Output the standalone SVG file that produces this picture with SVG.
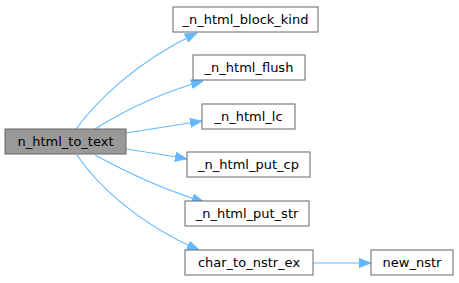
<svg xmlns="http://www.w3.org/2000/svg" width="459" height="283" viewBox="0 0 459 283">
<style>
.n rect{fill:#fff;stroke:#666;stroke-width:1}
.m rect{fill:#999;stroke:#666;stroke-width:1}
text{font-family:"DejaVu Sans",sans-serif;font-size:13px;text-anchor:middle;fill:#000}
.e path{fill:none;stroke:#63b8ff;stroke-width:1.1}
</style>
<defs>
<marker id="a" markerWidth="12" markerHeight="10" refX="12" refY="5" orient="auto" markerUnits="userSpaceOnUse"><path d="M0,0.5L12,5L0,9.5Z" fill="#63b8ff" stroke="#63b8ff" stroke-width="1"/></marker>
</defs>
<rect width="459" height="283" fill="#fff"/>
<g class="e">
<path d="M76,129C95,103 135,62 197,33" marker-end="url(#a)"/>
<path d="M95,129C122,112 160,93 203,81" marker-end="url(#a)"/>
<path d="M126,133C150,129 176,125 202,121" marker-end="url(#a)"/>
<path d="M126,149C146,152 166,155 187,159" marker-end="url(#a)"/>
<path d="M95,155C126,172 165,190 204,202" marker-end="url(#a)"/>
<path d="M77,155C97,185 140,225 199,250" marker-end="url(#a)"/>
<path d="M313,263L371,263" marker-end="url(#a)"/>
</g>
<g id="n_html_to_text" class="m"><rect x="5" y="129" width="121" height="25"/><text x="65.5" y="146">n_html_to_text</text></g>
<g id="_n_html_block_kind" class="n"><rect x="173" y="7" width="145" height="25"/><text x="245.5" y="24">_n_html_block_kind</text></g>
<g id="_n_html_flush" class="n"><rect x="193" y="55" width="112" height="25"/><text x="249" y="72">_n_html_flush</text></g>
<g id="_n_html_lc" class="n"><rect x="202" y="104" width="93" height="25"/><text x="248.5" y="121">_n_html_lc</text></g>
<g id="_n_html_put_cp" class="n"><rect x="187" y="152" width="123" height="25"/><text x="248.5" y="169">_n_html_put_cp</text></g>
<g id="_n_html_put_str" class="n"><rect x="185" y="201" width="124" height="25"/><text x="247" y="218">_n_html_put_str</text></g>
<g id="char_to_nstr_ex" class="n"><rect x="185" y="250" width="128" height="25"/><text x="249" y="267">char_to_nstr_ex</text></g>
<g id="new_nstr" class="n"><rect x="371" y="250" width="82" height="25"/><text x="412" y="267">new_nstr</text></g>
</svg>
